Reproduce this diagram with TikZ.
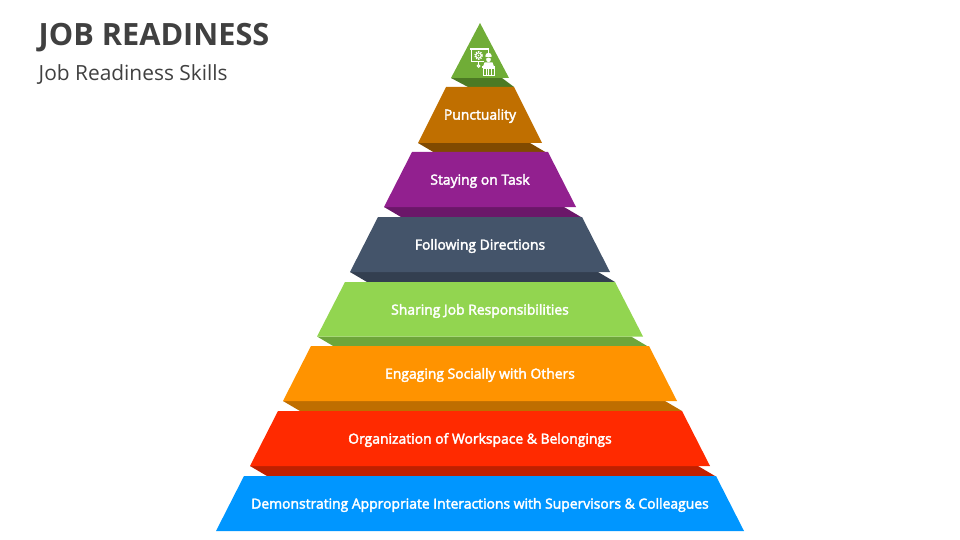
\documentclass[tikz,border=0pt]{standalone}
\usepackage{fontspec}
\setmainfont{Open Sans}
\newfontfamily\lblfont[FakeBold=2.6]{Open Sans}
\definecolor{ttl}{HTML}{404040}
\definecolor{cGreen}{HTML}{70AD37}\definecolor{dGreen}{HTML}{4C7A24}
\definecolor{cBrown}{HTML}{C06F00}\definecolor{dBrown}{HTML}{804A00}
\definecolor{cPurple}{HTML}{92208F}\definecolor{dPurple}{HTML}{6B1769}
\definecolor{cSlate}{HTML}{44546A}\definecolor{dSlate}{HTML}{333F50}
\definecolor{cLime}{HTML}{92D550}\definecolor{dLime}{HTML}{6EA63A}
\definecolor{cOrange}{HTML}{FF9300}\definecolor{dOrange}{HTML}{BF6E00}
\definecolor{cRed}{HTML}{FF2A00}\definecolor{dRed}{HTML}{BF2000}
\definecolor{cBlue}{HTML}{0096FF}
\tikzset{
  lbl/.style={text=white,font=\fontsize{13.9}{15}\lblfont,inner sep=0pt,anchor=center},
  ttlbig/.style={text=ttl,font=\fontsize{30.7}{36}\selectfont\bfseries,anchor=base west,inner sep=0pt},
  ttlsub/.style={text=ttl,font=\fontsize{20.9}{24}\selectfont,anchor=base west,inner sep=0pt},
  icn/.style={draw=white,line width=1pt,fill=none}
}
% #1 face,#2 ytop,#3 ybot,#4 half-bottom
\newcommand{\tierface}[4]{%
  \fill[#1] ({480-#4+28},#2) -- ({480+#4-28},#2) -- ({480+#4},#3) -- ({480-#4},#3) -- cycle;
}
% #1 shade,#2 ybot,#3 half-bottom
\newcommand{\tiershade}[3]{%
  \fill[#1] ({480-#3},#2) -- ({480+#3-12},#2) -- ({480+#3+5},{#2+10}) -- ({480-#3+17},{#2+10}) -- cycle;
}
\begin{document}
\begin{tikzpicture}[x=1pt,y=-1pt]
\useasboundingbox (0,0) rectangle (960,540);
\node[ttlbig] (title) at (38.5,46) {JOB READINESS};
\node[ttlsub] (subtitle) at (38.5,81) {Job Readiness Skills};

\tiershade{dRed}{466}{230}
\tiershade{dOrange}{401}{197}
\tiershade{dLime}{336.5}{163}
\tiershade{dSlate}{272}{130}
\tiershade{dPurple}{207}{96}
\tiershade{dBrown}{143}{62}
\fill[dGreen] (451,78) -- (502,78) -- (514,87) -- (468,87) -- cycle;

\tierface{cBlue}{476}{531}{264}
\tierface{cRed}{411}{466}{230}
\tierface{cOrange}{346}{401}{197}
\tierface{cLime}{282}{336.5}{163}
\tierface{cSlate}{217}{272}{130}
\tierface{cPurple}{152}{207}{96}
\tierface{cBrown}{87}{143}{62}
\fill[cGreen] (480,23) -- (509,78) -- (451,78) -- cycle;

\node[lbl] (t1) at (480,505) {Demonstrating Appropriate Interactions with Supervisors \& Colleagues};
\node[lbl] (t2) at (480,440) {Organization of Workspace \& Belongings};
\node[lbl] (t3) at (480,375) {Engaging Socially with Others};
\node[lbl] (t4) at (480,311) {Sharing Job Responsibilities};
\node[lbl] (t5) at (480,246) {Following Directions};
\node[lbl] (t6) at (480,181) {Staying on Task};
\node[lbl] (t7) at (480,116) {Punctuality};

% icon
\draw[icn] (471,49.5) rectangle (488,61.5);
\fill[white] (470,48) rectangle (489,50);
\draw[white,line width=1.6pt,dash pattern=on 1.2pt off 1.1pt] (478.5,55.5) circle (3.6);
\draw[icn,line width=0.9pt] (478.5,55.5) circle (2.6);
\fill[white] (478.5,55.5) circle (0.8);
\draw[icn] (478.5,61.5) -- (478.5,65);
\draw[icn] (478.5,66) circle (1.3);
\fill[cGreen] (483.5,53) rectangle (493,67);
\fill[white] (488.5,56) circle (3.2);
\fill[cGreen] (484.5,57.2) rectangle (492.5,58);
\fill[white] (488.5,59.8) circle (2.3);
\fill[white] (483,66.5) -- (484.5,62.5) -- (492.5,62.5) -- (494,66.5) -- cycle;
\fill[white] (482,66.5) rectangle (495,68.5);
\draw[icn,line width=0.8pt] (483,68.5) rectangle (494,75.5);
\draw[icn,line width=0.8pt] (486,68.5) -- (486,75.5) (488.5,68.5) -- (488.5,75.5) (491,68.5) -- (491,75.5);
\end{tikzpicture}
\end{document}
